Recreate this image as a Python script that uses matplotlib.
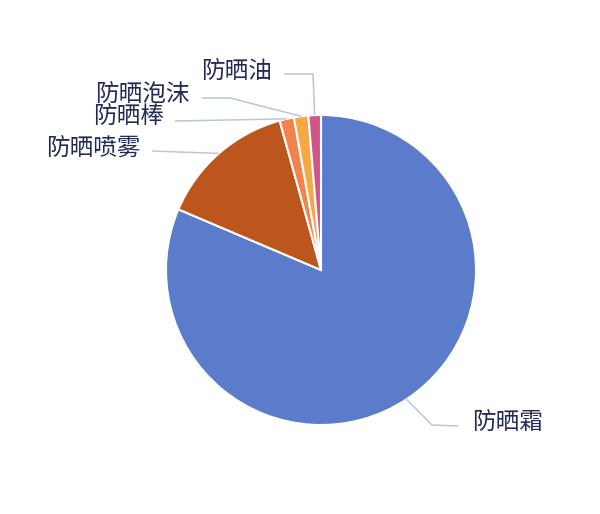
import numpy as np
import matplotlib
matplotlib.use("Agg")
import matplotlib.pyplot as plt

plt.rcParams['font.family'] = ['Noto Sans CJK SC', 'DejaVu Sans']

# data: share of each sunscreen type (%)
categories = ['防晒霜', '防晒喷雾', '防晒棒', '防晒泡沫', '防晒油']
shares = [81.4, 14.3, 1.5, 1.5, 1.3]
colors = ['#5b7cca', '#bd561d', '#f2834d', '#f6a845', '#d35487']

W, H = 600, 514
fig = plt.figure(figsize=(W / 100, H / 100), dpi=100)
ax = fig.add_axes([0, 0, 1, 1])
ax.set_xlim(0, W)
ax.set_ylim(0, H)
ax.set_aspect('equal')
ax.axis('off')

cx, cy, r = 321, H - 270, 155
wedges, _ = ax.pie(shares, colors=colors, startangle=90, counterclock=False,
                   center=(cx, cy), radius=r, frame=True,
                   wedgeprops=dict(edgecolor='white', linewidth=1.5))
ax.set_xlim(0, W)
ax.set_ylim(0, H)
ax.axis('off')

def anchor(w):
    # point on the rim at the middle of the wedge
    a = np.deg2rad((w.theta1 + w.theta2) / 2)
    return cx + r * np.cos(a), cy + r * np.sin(a)

# leader path (pixel coords, y down) and label placement for each wedge
layout = {
    '防晒霜':   dict(path=[(432, 425), (458, 426)], text=(472, 423), ha='left'),
    '防晒喷雾': dict(path=[(152, 151)], text=(141, 149), ha='right'),
    '防晒棒':   dict(path=[(175, 121)], text=(164, 117), ha='right'),
    '防晒泡沫': dict(path=[(230, 98), (202, 98)], text=(190, 95), ha='right'),
    '防晒油':   dict(path=[(313, 74), (284, 74)], text=(272, 72), ha='right'),
}

line_col = '#bcc6d6'
text_col = '#222b55'
for w, name in zip(wedges, categories):
    L = layout[name]
    ax0, ay0 = anchor(w)
    xs = [ax0] + [p[0] for p in L['path']]
    ys = [ay0] + [H - p[1] for p in L['path']]
    ax.plot(xs, ys, color=line_col, lw=1.1, solid_capstyle='butt')
    tx, ty = L['text']
    ax.text(tx, H - ty, name, ha=L['ha'], va='center', fontsize=17,
            color=text_col)

fig.savefig('out.png', dpi=100, facecolor='white')
